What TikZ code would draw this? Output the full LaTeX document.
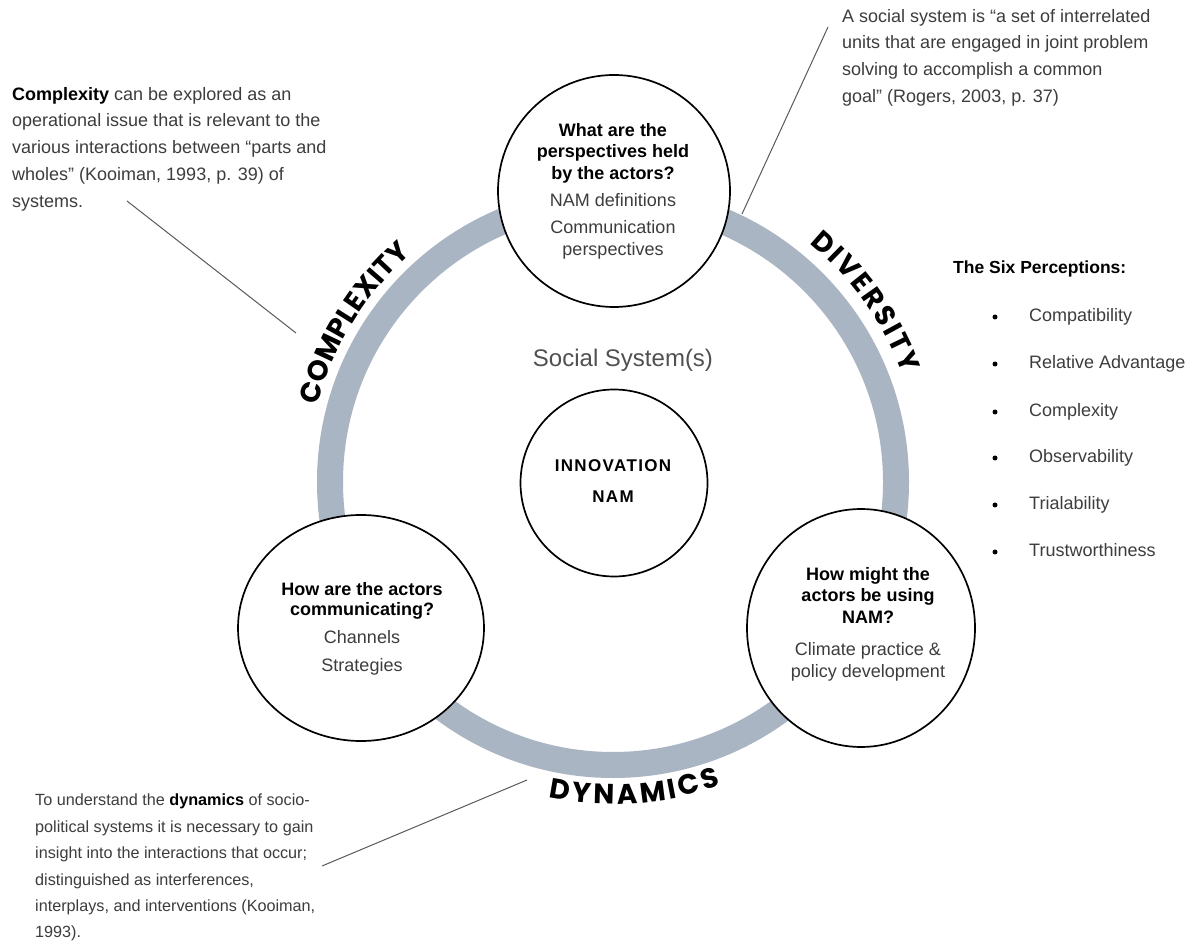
\documentclass[tikz,border=0pt]{standalone}
\usepackage{fontspec}
\setmainfont{Liberation Sans}
\newfontfamily\arcfont{Poppins}
\newfontfamily\spacedfont[LetterSpace=8]{Liberation Sans}
\usetikzlibrary{decorations.text,shapes.geometric}
\definecolor{ringgrey}{HTML}{AAB5C3}
\definecolor{bodygrey}{HTML}{3D3D3D}
\definecolor{leadergrey}{HTML}{5A5A5A}
\definecolor{titlegrey}{HTML}{505050}
\newcommand\arcstyle{\arcfont\bfseries\fontsize{28}{28}\selectfont}

\begin{document}
\begin{tikzpicture}[x=1pt,y=1pt,
  ring/.style={draw=ringgrey, line width=26pt},
  bubble/.style={draw=black, line width=1.7pt, fill=white, inner sep=0pt},
  para/.style={anchor=north west, inner sep=0pt, align=left, text=bodygrey,
    font=\fontsize{18}{26.7}\selectfont},
  bubbletext/.style={anchor=north, inner sep=0pt, align=center, text=bodygrey,
    font=\fontsize{18}{21.5}\selectfont},
  item/.style={anchor=base west, inner sep=0pt, text=bodygrey, font=\fontsize{18}{21}\selectfont},
  dot/.style={circle, fill=black, inner sep=0pt, minimum size=5pt},
  leader/.style={draw=leadergrey, line width=1pt},
  arclabel/.style={decorate, decoration={text along path, text align=fit to path,
    text={|\arcstyle|#1}}},
]
% canvas
\fill[white] (0,0) rectangle (1201,948);
\useasboundingbox (0,0) rectangle (1201,948);

% the social system ring
\coordinate (hub) at (613,466);
\draw[ring] (hub) circle[radius=283];

% curved ring labels
\path[arclabel=COMPLEXITY] ([shift={(165.5:305)}]hub) arc[start angle=165.5, end angle=131.5, radius=305];
\path[arclabel=DIVERSITY] ([shift={(50.5:309)}]hub) arc[start angle=50.5, end angle=20.5, radius=309];
\path[arclabel=DYNAMICS] ([shift={(258.5:322)}]hub) arc[start angle=258.5, end angle=289.5, radius=322];

% question bubbles and core
\node[bubble, circle, minimum size=232pt] (qtop) at (614,757) {};
\node[bubble, ellipse, minimum width=246pt, minimum height=226pt] (qleft) at (361,320) {};
\node[bubble, ellipse, minimum width=228pt, minimum height=238pt] (qright) at (861,320) {};
\node[bubble, circle, minimum size=187pt] (core) at (614,465) {};

\node[bubbletext] (qtoptext) at (613,825)
  {\textcolor{black}{\bfseries What are the}\\\textcolor{black}{\bfseries perspectives held}\\\textcolor{black}{\bfseries by the actors?}\\[5.5pt]
   NAM definitions\\[6pt]Communication\\perspectives};
\node[bubbletext, font=\fontsize{18}{20.5}\selectfont] (qlefttext) at (362,366)
  {\textcolor{black}{\bfseries How are the actors}\\\textcolor{black}{\bfseries communicating?}\\[7.5pt]
   Channels\\[7.5pt]Strategies};
\node[bubbletext] (qrighttext) at (868,381)
  {\textcolor{black}{\bfseries How might the}\\\textcolor{black}{\bfseries actors be using}\\\textcolor{black}{\bfseries NAM?}\\[11pt]
   Climate practice \&\\policy development};
\node[bubbletext, text=black, font=\spacedfont\bfseries\fontsize{17}{31}\selectfont] (coretext) at (613,488.5)
  {INNOVATION\\NAM};

\node[anchor=base, inner sep=0pt, text=titlegrey, font=\fontsize{24}{24}\selectfont] (system) at (623,581) {Social System(s)};

% annotations
\node[para] (complexnote) at (12,861)
  {\textcolor{black}{\bfseries Complexity} can be explored as an\\
   operational issue that is relevant to the\\
   various interactions between “parts and\\
   wholes” (Kooiman, 1993, p. 39) of\\
   systems.};
\node[para] (socialnote) at (842,939)
  {A social system is “a set of interrelated\\
   units that are engaged in joint problem\\
   solving to accomplish a common\\
   goal” (Rogers, 2003, p. 37)};
\node[para, font=\fontsize{16.2}{26.4}\selectfont] (dynamicnote) at (35,154)
  {To understand the \textcolor{black}{\bfseries dynamics} of socio-\\
   political systems it is necessary to gain\\
   insight into the interactions that occur;\\
   distinguished as interferences,\\
   interplays, and interventions (Kooiman,\\
   1993).};

% leader lines
\coordinate (complexfrom) at (127,747);
\coordinate (complexto) at (296,615);
\coordinate (socialfrom) at (828,921);
\coordinate (socialto) at (742,734);
\coordinate (dynamicfrom) at (322,82);
\coordinate (dynamicto) at (527,168);
\draw[leader] (complexfrom) -- (complexto);
\draw[leader] (socialfrom) -- (socialto);
\draw[leader] (dynamicfrom) -- (dynamicto);

% the six perceptions
\node[anchor=base west, inner sep=0pt, text=black, font=\bfseries\fontsize{17.5}{21}\selectfont] (sixtitle) at (953,674) {The Six Perceptions:};
\node[dot] (d1) at (995,631) {};
\node[dot] (d2) at (995,584) {};
\node[dot] (d3) at (995,536) {};
\node[dot] (d4) at (995,490) {};
\node[dot] (d5) at (995,443) {};
\node[dot] (d6) at (995,396) {};
\node[item] (p1) at (1029,626) {Compatibility};
\node[item] (p2) at (1029,579) {Relative Advantage};
\node[item] (p3) at (1029,531) {Complexity};
\node[item] (p4) at (1029,485) {Observability};
\node[item] (p5) at (1029,438) {Trialability};
\node[item] (p6) at (1029,391) {Trustworthiness};
\end{tikzpicture}
\end{document}
